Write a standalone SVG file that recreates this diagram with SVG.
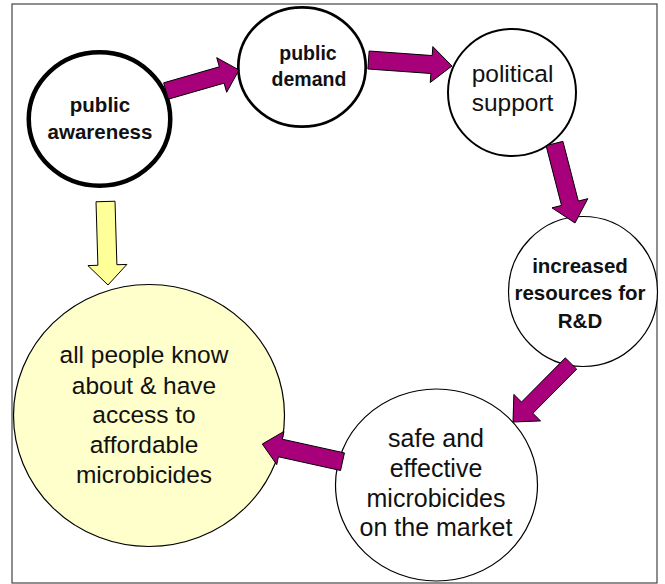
<svg xmlns="http://www.w3.org/2000/svg" width="665" height="584" viewBox="0 0 665 584">
<style>
.node{fill:#ffffff;stroke:#000000}
.goal{fill:#ffffcc;stroke:#000000;stroke-width:1.2}
.t{font-family:"Liberation Sans",Arial,Helvetica,sans-serif;fill:#111111;text-anchor:middle}
.b{font-weight:bold}
.arr{fill:#a8007a;stroke:#000000;stroke-width:1;stroke-linejoin:miter}
.yarr{fill:#ffff99;stroke:#000000;stroke-width:1}
</style>
<rect x="12" y="4" width="645" height="579" fill="#ffffff" stroke="#444444" stroke-width="1.2"/>
<g id="public-awareness">
<ellipse class="node" cx="99.5" cy="119" rx="70.75" ry="66.75" stroke-width="4.5"/>
<text class="t b" font-size="20.5" x="100" y="112">public</text>
<text class="t b" font-size="20.5" x="100" y="139">awareness</text>
</g>
<g id="public-demand">
<ellipse class="node" cx="302" cy="67" rx="63.7" ry="59.7" stroke-width="2.7"/>
<text class="t b" font-size="19.5" x="308" y="60">public</text>
<text class="t b" font-size="19.5" x="309" y="86">demand</text>
</g>
<g id="political-support">
<ellipse class="node" cx="512" cy="92.5" rx="64" ry="63.5" stroke-width="2"/>
<text class="t" font-size="24.5" x="512.5" y="82">political</text>
<text class="t" font-size="24.5" x="512.5" y="111">support</text>
</g>
<g id="increased-resources">
<ellipse class="node" cx="583" cy="291.5" rx="74.5" ry="75" stroke-width="1.2"/>
<text class="t b" font-size="20.5" x="580" y="273">increased</text>
<text class="t b" font-size="20.5" x="580" y="300">resources for</text>
<text class="t b" font-size="20.5" x="580" y="328">R&amp;D</text>
</g>
<g id="safe-effective">
<ellipse class="node" cx="436.5" cy="485" rx="101" ry="96" stroke-width="1.2"/>
<text class="t" font-size="25" x="436" y="447">safe and</text>
<text class="t" font-size="25" x="436" y="477">effective</text>
<text class="t" font-size="25" x="436" y="507">microbicides</text>
<text class="t" font-size="25" x="436" y="536">on the market</text>
</g>
<g id="goal">
<ellipse class="goal" cx="149" cy="415.5" rx="135.5" ry="131"/>
<text class="t" font-size="24.5" x="144" y="363">all people know</text>
<text class="t" font-size="24.5" x="144" y="394">about &amp; have</text>
<text class="t" font-size="24.5" x="144" y="423">access to</text>
<text class="t" font-size="24.5" x="144" y="453">affordable</text>
<text class="t" font-size="24.5" x="144" y="483">microbicides</text>
</g>
<g id="connectors">
<polygon class="arr" points="163.65,82.83 219.35,66.81 216.72,57.68 239,70 226.68,92.28 224.05,83.15 168.35,99.17"/>
<polygon class="arr" points="369.15,51.02 432.20,55.55 432.84,46.58 452,66 430.26,82.48 430.90,73.51 367.85,68.98"/>
<polygon class="arr" points="562.92,141.33 578.33,201.08 587.82,198.63 575,223 552.00,207.87 561.49,205.42 546.08,145.67"/>
<polygon class="arr" points="565.32,357.87 521.54,402.03 513.87,394.42 513,422 540.57,420.90 532.90,413.29 576.68,369.13"/>
<polygon class="arr" points="344.44,452.91 282.31,439.20 284.03,431.39 262.3,444 276.71,464.59 278.43,456.78 340.56,470.49"/>
<polygon class="yarr" points="115.00,201.22 116.90,264.73 126.89,264.43 108,285 87.91,265.59 97.90,265.29 96.00,201.78"/>
</g>
</svg>
